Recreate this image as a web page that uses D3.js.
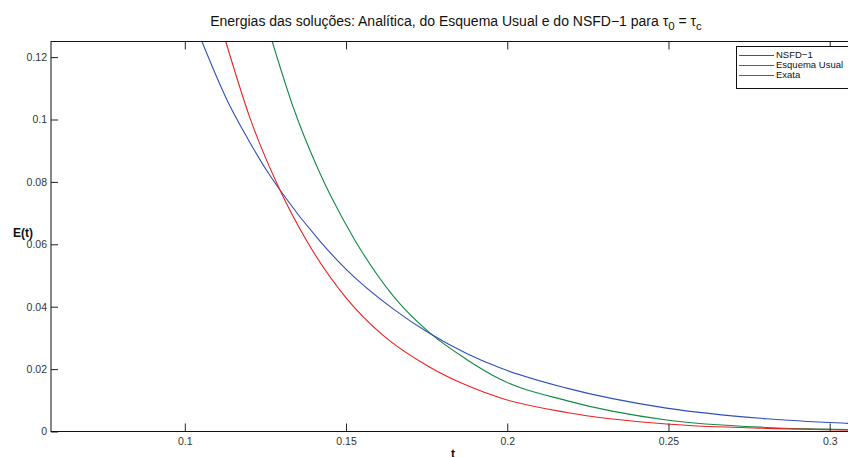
<!DOCTYPE html>
<html>
<head>
<meta charset="utf-8">
<script src="https://cdn.jsdelivr.net/npm/d3@7"></script>
<style>
  html, body { margin: 0; padding: 0; background: #fff; overflow: hidden; }
  svg { display: block; font-family: "Liberation Sans", Arial, Helvetica, sans-serif; }
</style>
</head>
<body>
<svg id="chart" width="848" height="457"></svg>
<script>
// Energy curves E(t) for the three solutions
const seriesNames = ["NSFD\u22121", "Esquema Usual", "Exata"];
const seriesColors = ["#3050b8", "#138a45", "#ee2020"];

const nsfdT = [0.1053, 0.1133, 0.1196, 0.1258, 0.1295, 0.1419, 0.1502, 0.1646, 0.1760, 0.1874, 0.1977, 0.2184, 0.2494, 0.2804, 0.3058, 0.3100];
const nsfdE = [0.1250, 0.1058, 0.0937, 0.0830, 0.0774, 0.0610, 0.0518, 0.0393, 0.0314, 0.0250, 0.0204, 0.0139, 0.0075, 0.0041, 0.0026, 0.0024];

const usualT = [0.1271, 0.1336, 0.1409, 0.1460, 0.1527, 0.1646, 0.1760, 0.1874, 0.1977, 0.2184, 0.2494, 0.2804, 0.3058, 0.3100];
const usualE = [0.1250, 0.1040, 0.0851, 0.0740, 0.0614, 0.0435, 0.0316, 0.0231, 0.0168, 0.0099, 0.0037, 0.0013, 0.0006, 0.0005];

const exataT = [0.1127, 0.1202, 0.1295, 0.1377, 0.1502, 0.1615, 0.1760, 0.1874, 0.1977, 0.2184, 0.2494, 0.2804, 0.3058, 0.3100];
const exataE = [0.1250, 0.1005, 0.0774, 0.0613, 0.0426, 0.0308, 0.0206, 0.0148, 0.0108, 0.0061, 0.0024, 0.0010, 0.0005, 0.0004];

const xTicks = [0.1, 0.15, 0.2, 0.25, 0.3];
const xTickLabels = ["0.1", "0.15", "0.2", "0.25", "0.3"];
const yTicks = [0, 0.02, 0.04, 0.06, 0.08, 0.1, 0.12];
const yTickLabels = ["0", "0.02", "0.04", "0.06", "0.08", "0.1", "0.12"];

const xDomain = [0.0585, 0.3094];
const yDomain = [0, 0.125];

// plot box
const plotLeft = 51, plotRight = 860, plotTop = 41.5, plotBottom = 431.5;

const svg = d3.select("#chart");
const x = d3.scaleLinear().domain(xDomain).range([plotLeft, plotRight]);
const y = d3.scaleLinear().domain(yDomain).range([plotBottom, plotTop]);

svg.append("defs").append("clipPath").attr("id", "plotClip")
  .append("rect").attr("x", plotLeft).attr("y", plotTop)
  .attr("width", plotRight - plotLeft).attr("height", plotBottom - plotTop);

// curves
const seriesT = [nsfdT, usualT, exataT];
const seriesE = [nsfdE, usualE, exataE];
const line = d3.line().x(d => x(d[0])).y(d => y(d[1])).curve(d3.curveMonotoneX);
const plot = svg.append("g").attr("clip-path", "url(#plotClip)");
// draw in order so the red curve ends on top
[1, 0, 2].forEach(i => {
  plot.append("path")
    .datum(d3.zip(seriesT[i], seriesE[i]))
    .attr("fill", "none")
    .attr("stroke", seriesColors[i])
    .attr("stroke-width", 1.1)
    .attr("d", line);
});

// axes (ticks pointing inward)
const axisStyle = g => {
  g.select(".domain").remove();
  g.selectAll(".tick line").attr("stroke", "#222");
  g.selectAll(".tick text").attr("fill", "#333").style("font-size", "10.5px")
    .style("font-family", "'Liberation Sans', Arial, sans-serif");
};

svg.append("g").attr("transform", `translate(0,${plotBottom})`)
  .call(d3.axisBottom(x).tickValues(xTicks).tickFormat((d, i) => xTickLabels[i])
    .tickSizeInner(-8).tickSizeOuter(0).tickPadding(6))
  .call(axisStyle)
  .call(g => g.selectAll(".tick text").attr("y", 6));

svg.append("g").attr("transform", `translate(0,${plotTop})`)
  .call(d3.axisTop(x).tickValues(xTicks).tickFormat("")
    .tickSizeInner(-8).tickSizeOuter(0))
  .call(axisStyle);

svg.append("g").attr("transform", `translate(${plotLeft},0)`)
  .call(d3.axisLeft(y).tickValues(yTicks).tickFormat((d, i) => yTickLabels[i])
    .tickSizeInner(-7).tickSizeOuter(0).tickPadding(4))
  .call(axisStyle);

svg.append("g").attr("transform", `translate(${plotRight},0)`)
  .call(d3.axisRight(y).tickValues(yTicks).tickFormat("")
    .tickSizeInner(-7).tickSizeOuter(0))
  .call(axisStyle);

// frame
svg.append("rect").attr("x", plotLeft).attr("y", plotTop)
  .attr("width", plotRight - plotLeft).attr("height", plotBottom - plotTop)
  .attr("fill", "none").attr("stroke", "#111").attr("stroke-width", 1);

// title with subscripts
const title = svg.append("text").attr("x", 456).attr("y", 25.5)
  .attr("text-anchor", "middle").style("font-size", "14px").attr("fill", "#111");
title.append("tspan").text("Energias das soluções: Analítica, do Esquema Usual e do NSFD\u22121 para \u03C4");
title.append("tspan").attr("dy", 4).style("font-size", "11.5px").text("0");
title.append("tspan").attr("dy", -4).text(" = \u03C4");
title.append("tspan").attr("dy", 4).style("font-size", "11.5px").text("c");

// axis labels
svg.append("text").attr("x", 453).attr("y", 458).attr("text-anchor", "middle")
  .style("font-size", "12px").style("font-weight", "bold").attr("fill", "#111").text("t");
svg.append("text").attr("x", 13).attr("y", 237)
  .style("font-size", "12px").style("font-weight", "bold").attr("fill", "#111").text("E(t)");

// legend
const lg = svg.append("g");
lg.append("rect").attr("x", 736.5).attr("y", 46.5).attr("width", 120).attr("height", 42)
  .attr("fill", "#fff").attr("stroke", "#111").attr("stroke-width", 1);
const legendY = [55, 65, 75];
seriesNames.forEach((name, i) => {
  lg.append("line").attr("x1", 739).attr("x2", 774)
    .attr("y1", legendY[i] + 0.5).attr("y2", legendY[i] + 0.5)
    .attr("stroke", seriesColors[i]).attr("stroke-width", 1.1);
  lg.append("text").attr("x", 776).attr("y", legendY[i]).attr("dy", "0.35em")
    .style("font-size", "9.5px").attr("fill", "#111").text(name);
});
</script>
</body>
</html>
